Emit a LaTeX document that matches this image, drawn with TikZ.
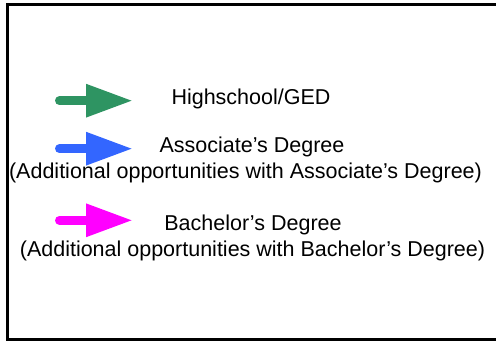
\documentclass[tikz,border=0pt]{standalone}
\usepackage{fontspec}
\setmainfont{Liberation Sans}
\usetikzlibrary{arrows.meta,positioning}
\definecolor{hsgreen}{RGB}{46,148,98}
\definecolor{asblue}{RGB}{51,102,255}
\definecolor{bamagenta}{RGB}{255,0,255}
\tikzset{legarrow/.style={-{Triangle[length=23.5pt,width=15.5pt]}, line width=4.5pt, line cap=round},
         legtext/.style={font=\fontsize{10.75}{13}\selectfont, inner sep=0pt, anchor=base}
}
\begin{document}
\begin{tikzpicture}[x=0.5pt,y=-0.5pt]
       \useasboundingbox (0,0) rectangle (496,341);
       \clip (0,0) rectangle (496,341);
       \draw[line width=1.5pt] (540,5) -- (7.5,5) -- (7.5,339.5) -- (540,339.5);
       % legend arrows
       \coordinate (hsfrom) at (59.5,100.7);  \coordinate (hsto) at (133,100.7);
       \coordinate (asfrom) at (59.5,148.7);  \coordinate (asto) at (133,148.7);
       \coordinate (bafrom) at (59.5,220.3);  \coordinate (bato) at (133,220.3);
       \draw[legarrow, hsgreen] (hsfrom) -- (hsto);
       \draw[legarrow, asblue] (asfrom) -- (asto);
       \draw[legarrow, bamagenta] (bafrom) -- (bato);
       % legend texts
       \node[legtext] (hs) at (251,105) {Highschool/GED};
       \node[legtext] (as) at (252,153) {Associate’s Degree};
       \node[legtext] (asnote) at (245.5,179) {(Additional opportunities with Associate’s Degree)};
       \node[legtext] (ba) at (253,230.7) {Bachelor’s Degree};
       \node[legtext] (banote) at (252.5,256.7) {(Additional opportunities with Bachelor’s Degree)};
\end{tikzpicture}
\end{document}
